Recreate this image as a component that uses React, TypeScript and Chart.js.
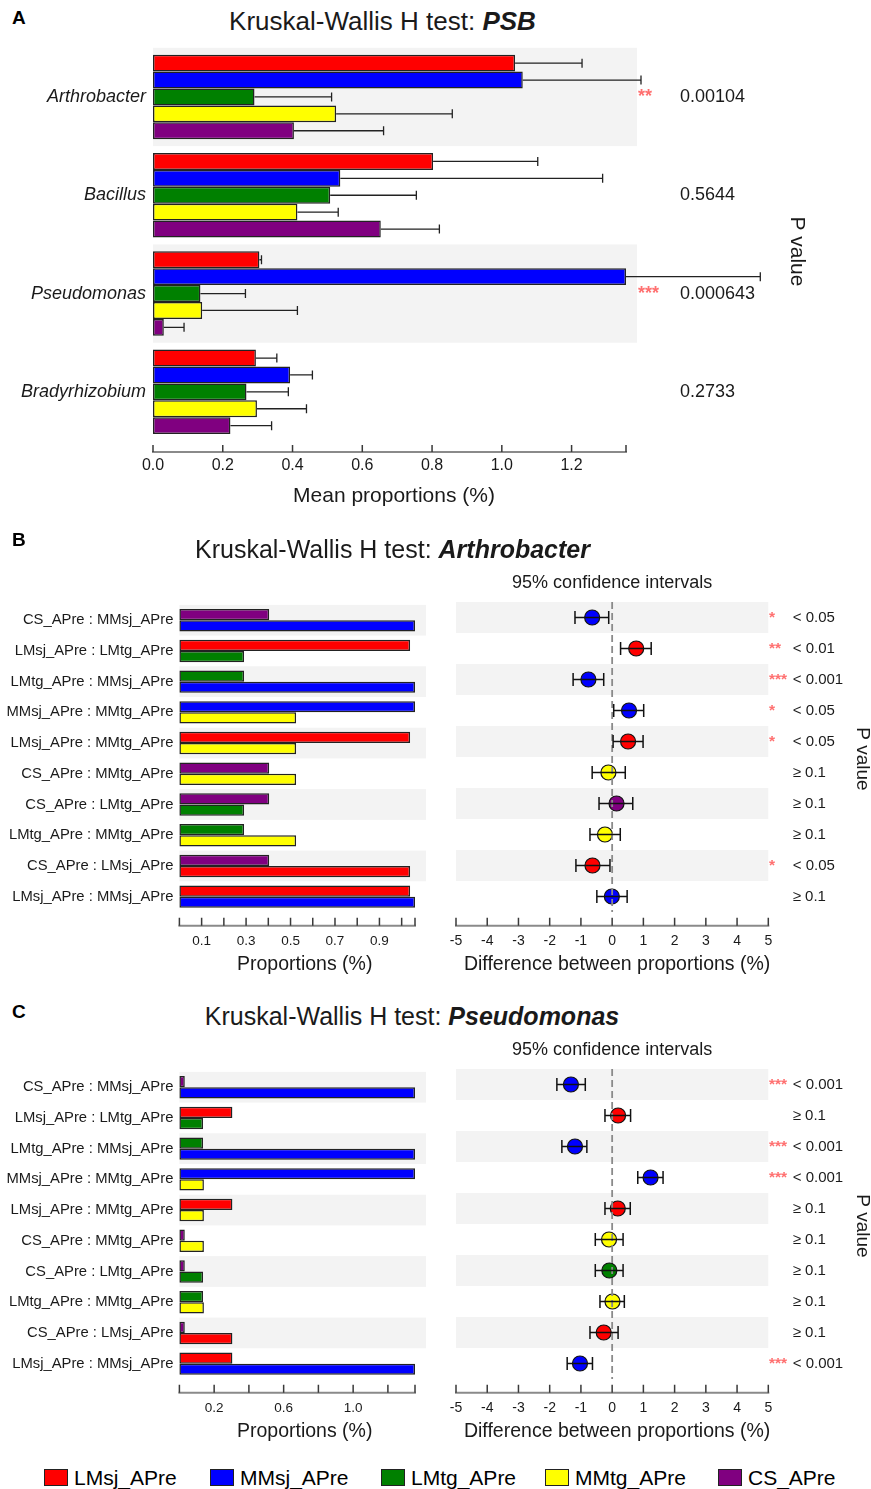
import React, { useEffect, useRef } from 'react';
import { Chart, registerables } from 'chart.js';

Chart.register(...registerables);

const FONT = '"Liberation Sans", Arial, Helvetica, sans-serif';
Chart.defaults.font.family = FONT;
const TEXT = '#1a1a1a';
const STAR = '#ff7070';

// ---------------- data ----------------
const groups = ['LMsj_APre', 'MMsj_APre', 'LMtg_APre', 'MMtg_APre', 'CS_APre'];
const groupColors = ['#ff0000', '#0000ff', '#008000', '#ffff00', '#800080'];

const genera = ['Arthrobacter', 'Bacillus', 'Pseudomonas', 'Bradyrhizobium'];
const meanLMsj = [1.038, 0.803, 0.305, 0.295];
const meanMMsj = [1.06, 0.537, 1.356, 0.393];
const meanLMtg = [0.291, 0.508, 0.136, 0.268];
const meanMMtg = [0.525, 0.414, 0.141, 0.298];
const meanCS = [0.404, 0.653, 0.031, 0.222];
const sdLMsj = [0.192, 0.3, 0.006, 0.06];
const sdMMsj = [0.339, 0.752, 0.385, 0.064];
const sdLMtg = [0.221, 0.247, 0.129, 0.12];
const sdMMtg = [0.333, 0.117, 0.273, 0.142];
const sdCS = [0.257, 0.168, 0.058, 0.118];
const genusPValues = ['0.00104', '0.5644', '0.000643', '0.2733'];
const genusStars = ['**', '', '***', ''];
const meanAxisLabels = [0, 0.2, 0.4, 0.6, 0.8, 1.0, 1.2];

const pairFirst = ['CS_APre', 'LMsj_APre', 'LMtg_APre', 'MMsj_APre', 'LMsj_APre', 'CS_APre', 'CS_APre', 'LMtg_APre', 'CS_APre', 'LMsj_APre'];
const pairSecond = ['MMsj_APre', 'LMtg_APre', 'MMsj_APre', 'MMtg_APre', 'MMtg_APre', 'MMtg_APre', 'LMtg_APre', 'MMtg_APre', 'LMsj_APre', 'MMsj_APre'];

// Panel B: Arthrobacter
const arthDiff = [-0.64, 0.77, -0.76, 0.54, 0.51, -0.12, 0.14, -0.23, -0.63, -0.01];
const arthLow = [-1.19, 0.27, -1.25, 0.05, 0.03, -0.64, -0.42, -0.71, -1.16, -0.49];
const arthHigh = [-0.11, 1.25, -0.27, 1.01, 0.99, 0.42, 0.66, 0.26, -0.07, 0.48];
const arthDotGroup = ['MMsj_APre', 'LMsj_APre', 'MMsj_APre', 'MMsj_APre', 'LMsj_APre', 'MMtg_APre', 'CS_APre', 'MMtg_APre', 'LMsj_APre', 'MMsj_APre'];
const arthP = ['< 0.05', '< 0.01', '< 0.001', '< 0.05', '< 0.05', '≥ 0.1', '≥ 0.1', '≥ 0.1', '< 0.05', '≥ 0.1'];
const arthStars = ['*', '**', '***', '*', '*', '', '', '', '*', ''];
const arthPropLabels = [0.1, 0.3, 0.5, 0.7, 0.9];

// Panel C: Pseudomonas
const pseuDiff = [-1.32, 0.19, -1.19, 1.23, 0.18, -0.1, -0.09, 0.01, -0.27, -1.03];
const pseuLow = [-1.77, -0.23, -1.61, 0.82, -0.23, -0.54, -0.54, -0.39, -0.71, -1.44];
const pseuHigh = [-0.86, 0.59, -0.81, 1.63, 0.58, 0.35, 0.35, 0.39, 0.19, -0.63];
const pseuDotGroup = ['MMsj_APre', 'LMsj_APre', 'MMsj_APre', 'MMsj_APre', 'LMsj_APre', 'MMtg_APre', 'LMtg_APre', 'MMtg_APre', 'LMsj_APre', 'MMsj_APre'];
const pseuP = ['< 0.001', '≥ 0.1', '< 0.001', '< 0.001', '≥ 0.1', '≥ 0.1', '≥ 0.1', '≥ 0.1', '≥ 0.1', '< 0.001'];
const pseuStars = ['***', '', '***', '***', '', '', '', '', '', '***'];
const pseuPropLabels = [0.2, 0.6, 1.0];

const diffAxisLabels = [-5, -4, -3, -2, -1, 0, 1, 2, 3, 4, 5];

// ---------------- helpers ----------------
const means = [meanLMsj, meanMMsj, meanLMtg, meanMMtg, meanCS];
const sds = [sdLMsj, sdMMsj, sdLMtg, sdMMtg, sdCS];
const colorOf = (g: string) => groupColors[groups.indexOf(g)];
const meanOf = (g: string, gi: number) => means[groups.indexOf(g)][gi];
const pairLabels = pairFirst.map((a, i) => `${a} : ${pairSecond[i]}`);

function stepMarks(step: number, max: number) {
  const r: number[] = [];
  for (let k = 0; k * step <= max + 1e-9; k++) r.push(+(k * step).toFixed(6));
  if (Math.abs(r[r.length - 1] - max) > 1e-6) r.push(max);
  return r;
}

function xAxis(o: { min: number; max: number; marks: number[]; labels: number[]; fmt: (v: number) => string; height: number; padding: number; size: number }) {
  return {
    type: 'linear',
    min: o.min,
    max: o.max,
    afterBuildTicks: (s: any) => {
      s.ticks = o.marks.map((v) => ({ value: v }));
    },
    afterFit: (s: any) => {
      s.height = o.height;
    },
    grid: { display: false, drawTicks: false },
    border: { display: false },
    ticks: {
      autoSkip: false,
      maxRotation: 0,
      minRotation: 0,
      padding: o.padding,
      color: TEXT,
      font: { family: FONT, size: o.size },
      callback: (v: number) => {
        const l = o.labels.find((t) => Math.abs(t - v) < 1e-6);
        return l === undefined ? '' : o.fmt(l);
      },
    },
  };
}

function bandsPlugin(extendRight: number) {
  return {
    id: 'rowBands',
    beforeDatasetsDraw(chart: any) {
      const { ctx, chartArea } = chart;
      const y = chart.scales.y;
      const n = y.getLabels().length;
      const step = Math.abs(y.getPixelForValue(1) - y.getPixelForValue(0));
      ctx.save();
      ctx.fillStyle = '#f3f3f3';
      for (let i = 0; i < n; i += 2) {
        const c = y.getPixelForValue(i);
        ctx.fillRect(chartArea.left, c - step / 2, chartArea.right - chartArea.left + extendRight, step);
      }
      ctx.restore();
    },
  };
}

function axisPlugin(o: { gap: number; tickLen: number; title: string; titleGap: number; titleDx: number; titleSize: number }) {
  return {
    id: 'bottomAxis',
    afterDraw(chart: any) {
      const { ctx, chartArea } = chart;
      const x = chart.scales.x;
      const yl = chartArea.bottom + o.gap;
      ctx.save();
      ctx.strokeStyle = '#8a8a8a';
      ctx.lineWidth = 2;
      ctx.beginPath();
      ctx.moveTo(x.getPixelForValue(x.min) - 1, yl);
      ctx.lineTo(x.getPixelForValue(x.max) + 1, yl);
      ctx.stroke();
      ctx.strokeStyle = '#3a3a3a';
      ctx.lineWidth = 1.5;
      ctx.beginPath();
      x.ticks.forEach((t: any) => {
        const px = x.getPixelForValue(t.value);
        ctx.moveTo(px, yl);
        ctx.lineTo(px, yl - o.tickLen);
      });
      ctx.stroke();
      ctx.fillStyle = TEXT;
      ctx.font = `${o.titleSize}px ${FONT}`;
      ctx.textAlign = 'center';
      ctx.textBaseline = 'middle';
      ctx.fillText(o.title, (chartArea.left + chartArea.right) / 2 + o.titleDx, chartArea.bottom + o.titleGap);
      ctx.restore();
    },
  };
}

function sidePlugin(o: {
  p: string[];
  stars: string[];
  pDx: number;
  starDx: number;
  pSize: number;
  starSize: number;
  rotDx: number;
  rotDy: number;
  rotSize: number;
  header?: string;
  headerSize?: number;
  headerGap?: number;
}) {
  return {
    id: 'sideText',
    afterDraw(chart: any) {
      const { ctx, chartArea } = chart;
      const y = chart.scales.y;
      ctx.save();
      ctx.textBaseline = 'middle';
      ctx.textAlign = 'left';
      o.p.forEach((p, i) => {
        const cy = y.getPixelForValue(i);
        ctx.font = `${o.pSize}px ${FONT}`;
        ctx.fillStyle = TEXT;
        ctx.fillText(p, chartArea.right + o.pDx, cy);
        if (o.stars[i]) {
          ctx.font = `bold ${o.starSize}px ${FONT}`;
          ctx.fillStyle = STAR;
          ctx.fillText(o.stars[i], chartArea.right + o.starDx, cy);
        }
      });
      if (o.header) {
        ctx.font = `${o.headerSize}px ${FONT}`;
        ctx.fillStyle = TEXT;
        ctx.textAlign = 'center';
        ctx.fillText(o.header, (chartArea.left + chartArea.right) / 2, chartArea.top - (o.headerGap || 0));
      }
      ctx.translate(chartArea.right + o.rotDx, (chartArea.top + chartArea.bottom) / 2 + o.rotDy);
      ctx.rotate(Math.PI / 2);
      ctx.textAlign = 'center';
      ctx.font = `${o.rotSize}px ${FONT}`;
      ctx.fillStyle = TEXT;
      ctx.fillText('P value', 0, 0);
      ctx.restore();
    },
  };
}

function errorBarPlugin() {
  return {
    id: 'errorBars',
    afterDatasetsDraw(chart: any) {
      const { ctx } = chart;
      const x = chart.scales.x;
      ctx.save();
      ctx.strokeStyle = '#222';
      ctx.lineWidth = 1.3;
      chart.data.datasets.forEach((ds: any, di: number) => {
        const meta = chart.getDatasetMeta(di);
        meta.data.forEach((bar: any, i: number) => {
          const x1 = x.getPixelForValue(ds.data[i] + sds[di][i]);
          ctx.beginPath();
          ctx.moveTo(bar.x, bar.y);
          ctx.lineTo(x1, bar.y);
          ctx.moveTo(x1, bar.y - 4.5);
          ctx.lineTo(x1, bar.y + 4.5);
          ctx.stroke();
        });
      });
      ctx.restore();
    },
  };
}

function ciPlugin(low: number[], high: number[]) {
  return {
    id: 'ciBars',
    afterDatasetsDraw(chart: any) {
      const { ctx, chartArea } = chart;
      const x = chart.scales.x;
      const y = chart.scales.y;
      ctx.save();
      const zx = x.getPixelForValue(0);
      ctx.strokeStyle = '#8a8a8a';
      ctx.lineWidth = 1.8;
      ctx.setLineDash([7, 4]);
      ctx.beginPath();
      ctx.moveTo(zx, chartArea.top);
      ctx.lineTo(zx, chartArea.bottom);
      ctx.stroke();
      ctx.setLineDash([]);
      ctx.strokeStyle = '#111';
      ctx.lineWidth = 1.5;
      low.forEach((lo, i) => {
        const cy = y.getPixelForValue(i);
        const x1 = x.getPixelForValue(lo);
        const x2 = x.getPixelForValue(high[i]);
        ctx.beginPath();
        ctx.moveTo(x1, cy);
        ctx.lineTo(x2, cy);
        ctx.moveTo(x1, cy - 6.5);
        ctx.lineTo(x1, cy + 6.5);
        ctx.moveTo(x2, cy - 6.5);
        ctx.lineTo(x2, cy + 6.5);
        ctx.stroke();
      });
      ctx.restore();
    },
  };
}

const noPlugins = { legend: { display: false }, tooltip: { enabled: false }, title: { display: false } };

// ---------------- chart configs ----------------
function buildA() {
  const max = Math.max(...means.flat());
  return {
    type: 'bar',
    data: {
      labels: genera,
      datasets: groups.map((g, gi) => ({
        label: g,
        data: means[gi],
        backgroundColor: groupColors[gi],
        borderColor: '#222',
        borderWidth: 1.5,
        borderSkipped: false,
        categoryPercentage: 0.86,
        barPercentage: 1,
        clip: false,
      })),
    },
    options: {
      indexAxis: 'y',
      animation: false,
      responsive: false,
      events: [],
      layout: { padding: { top: 15, right: 245, bottom: 0, left: 0 } },
      plugins: noPlugins,
      scales: {
        x: xAxis({ min: 0, max, marks: stepMarks(0.2, max), labels: meanAxisLabels, fmt: (v) => v.toFixed(1), height: 89, padding: 15.4, size: 16 }),
        y: {
          type: 'category',
          afterFit: (s: any) => {
            s.width = 153;
          },
          grid: { display: false, drawTicks: false },
          border: { display: false },
          ticks: { padding: 7, color: TEXT, font: { family: FONT, size: 18, style: 'italic' } },
        },
      },
    },
    plugins: [
      bandsPlugin(11),
      errorBarPlugin(),
      axisPlugin({ gap: 11, tickLen: 7, title: 'Mean proportions (%)', titleGap: 55, titleDx: 4.5, titleSize: 21 }),
      sidePlugin({ p: genusPValues, stars: genusStars, pDx: 54, starDx: 12, pSize: 18, starSize: 18, rotDx: 171, rotDy: 7, rotSize: 21 }),
    ],
  };
}

function buildPairBars(gi: number, labels: number[], step: number) {
  const max = Math.max(...means.map((m) => m[gi]));
  return () => ({
    type: 'bar',
    data: {
      labels: pairLabels,
      datasets: [pairFirst, pairSecond].map((arr) => ({
        data: arr.map((g) => meanOf(g, gi)),
        backgroundColor: arr.map(colorOf),
        borderColor: '#222',
        borderWidth: 1.5,
        borderSkipped: false,
        categoryPercentage: 0.73,
        barPercentage: 1,
        clip: false,
      })),
    },
    options: {
      indexAxis: 'y',
      animation: false,
      responsive: false,
      events: [],
      layout: { padding: { top: 12, right: 25, bottom: 0, left: 0 } },
      plugins: noPlugins,
      scales: {
        x: xAxis({ min: 0, max, marks: stepMarks(step, max), labels, fmt: (v) => v.toFixed(1), height: 78, padding: 20.9, size: 13.5 }),
        y: {
          type: 'category',
          afterFit: (s: any) => {
            s.width = 179.4;
          },
          grid: { display: false, drawTicks: false },
          border: { display: false },
          ticks: { padding: 6, color: TEXT, font: { family: FONT, size: 14.8 } },
        },
      },
    },
    plugins: [
      bandsPlugin(11),
      axisPlugin({ gap: 13.7, tickLen: 8, title: 'Proportions (%)', titleGap: 52.5, titleDx: 7.5, titleSize: 19.5 }),
    ],
  });
}

// CI canvases start at x = 427.7 so that the chart area begins at 455.7
const CI_LEFT = 427.7;
const CI_PAD_LEFT = 28;

function buildCI(diff: number[], low: number[], high: number[], dot: string[], p: string[], stars: string[]) {
  return () => ({
    type: 'scatter',
    data: {
      labels: pairLabels,
      datasets: [
        {
          data: diff.map((d, i) => ({ x: d, y: i })),
          backgroundColor: dot.map(colorOf),
          borderColor: '#111',
          borderWidth: 1.2,
          pointRadius: 7.5,
          pointHoverRadius: 7.5,
          clip: false,
        },
      ],
    },
    options: {
      animation: false,
      responsive: false,
      events: [],
      layout: { padding: { top: 42, right: 102.7, bottom: 0, left: CI_PAD_LEFT } },
      plugins: noPlugins,
      scales: {
        x: xAxis({ min: -5, max: 5, marks: diffAxisLabels, labels: diffAxisLabels, fmt: (v) => String(v), height: 78, padding: 20.4, size: 14 }),
        y: { type: 'category', labels: pairLabels, offset: true, display: false },
      },
    },
    plugins: [
      bandsPlugin(0),
      ciPlugin(low, high),
      axisPlugin({ gap: 13.7, tickLen: 8, title: 'Difference between proportions (%)', titleGap: 52.5, titleDx: 5, titleSize: 19.5 }),
      sidePlugin({ p, stars, pDx: 24.4, starDx: 0.7, pSize: 15, starSize: 15.5, rotDx: 93.7, rotDy: 2, rotSize: 19, header: '95% confidence intervals', headerSize: 18, headerGap: 19 }),
    ],
  });
}

// ---------------- components ----------------
type Box = { left: number; top: number; width: number; height: number };

function ChartCanvas({ box, build }: { box: Box; build: () => any }) {
  const ref = useRef<HTMLCanvasElement | null>(null);
  useEffect(() => {
    if (!ref.current) return;
    const chart = new Chart(ref.current, build() as any);
    return () => chart.destroy();
  }, []);
  return (
    <div style={{ position: 'absolute', left: box.left, top: box.top, width: box.width, height: box.height }}>
      <canvas ref={ref} width={box.width} height={box.height} style={{ width: box.width, height: box.height, display: 'block' }} />
    </div>
  );
}

function Title({ cx, top, size, plain, emph }: { cx: number; top: number; size: number; plain: string; emph: string }) {
  return (
    <div
      style={{
        position: 'absolute',
        left: 0,
        width: cx * 2,
        top,
        textAlign: 'center',
        fontFamily: FONT,
        fontSize: size,
        lineHeight: `${size * 1.2}px`,
        color: TEXT,
        whiteSpace: 'nowrap',
      }}
    >
      {plain}
      <b>
        <i>{emph}</i>
      </b>
    </div>
  );
}

function Letter({ text, top }: { text: string; top: number }) {
  return (
    <div style={{ position: 'absolute', left: 12, top, fontFamily: FONT, fontWeight: 'bold', fontSize: 19, lineHeight: '22.8px', color: '#000' }}>
      {text}
    </div>
  );
}

const legendX = [44, 210, 381, 545, 718];

export default function App() {
  const ciWidth = 871 - CI_LEFT;
  return (
    <div style={{ position: 'absolute', left: 0, top: 0, width: 871, height: 1489, background: '#fff', overflow: 'hidden' }}>
      <Letter text="A" top={6.8} />
      <Title cx={382.5} top={6.2} size={26} plain="Kruskal-Wallis H test: " emph="PSB" />
      <ChartCanvas box={{ left: 0, top: 30, width: 871, height: 500 }} build={buildA} />

      <Letter text="B" top={528.8} />
      <Title cx={392.5} top={533.6} size={25} plain="Kruskal-Wallis H test: " emph="Arthrobacter" />
      <ChartCanvas box={{ left: 0, top: 590, width: 440, height: 400 }} build={buildPairBars(0, arthPropLabels, 0.1)} />
      <ChartCanvas box={{ left: CI_LEFT, top: 560, width: ciWidth, height: 430 }} build={buildCI(arthDiff, arthLow, arthHigh, arthDotGroup, arthP, arthStars)} />

      <Letter text="C" top={1000.8} />
      <Title cx={412} top={1001.3} size={25} plain="Kruskal-Wallis H test: " emph="Pseudomonas" />
      <ChartCanvas box={{ left: 0, top: 1057, width: 440, height: 400 }} build={buildPairBars(2, pseuPropLabels, 0.2)} />
      <ChartCanvas box={{ left: CI_LEFT, top: 1027, width: ciWidth, height: 430 }} build={buildCI(pseuDiff, pseuLow, pseuHigh, pseuDotGroup, pseuP, pseuStars)} />

      {groups.map((g, i) => (
        <div key={g} style={{ position: 'absolute', left: legendX[i], top: 1465, display: 'flex', alignItems: 'center', fontFamily: FONT, fontSize: 21, lineHeight: '25px', color: '#000' }}>
          <span style={{ display: 'inline-block', width: 24, height: 17, background: groupColors[i], border: '1.5px solid #222', boxSizing: 'border-box', marginRight: 6 }} />
          <span>{g}</span>
        </div>
      ))}
    </div>
  );
}
